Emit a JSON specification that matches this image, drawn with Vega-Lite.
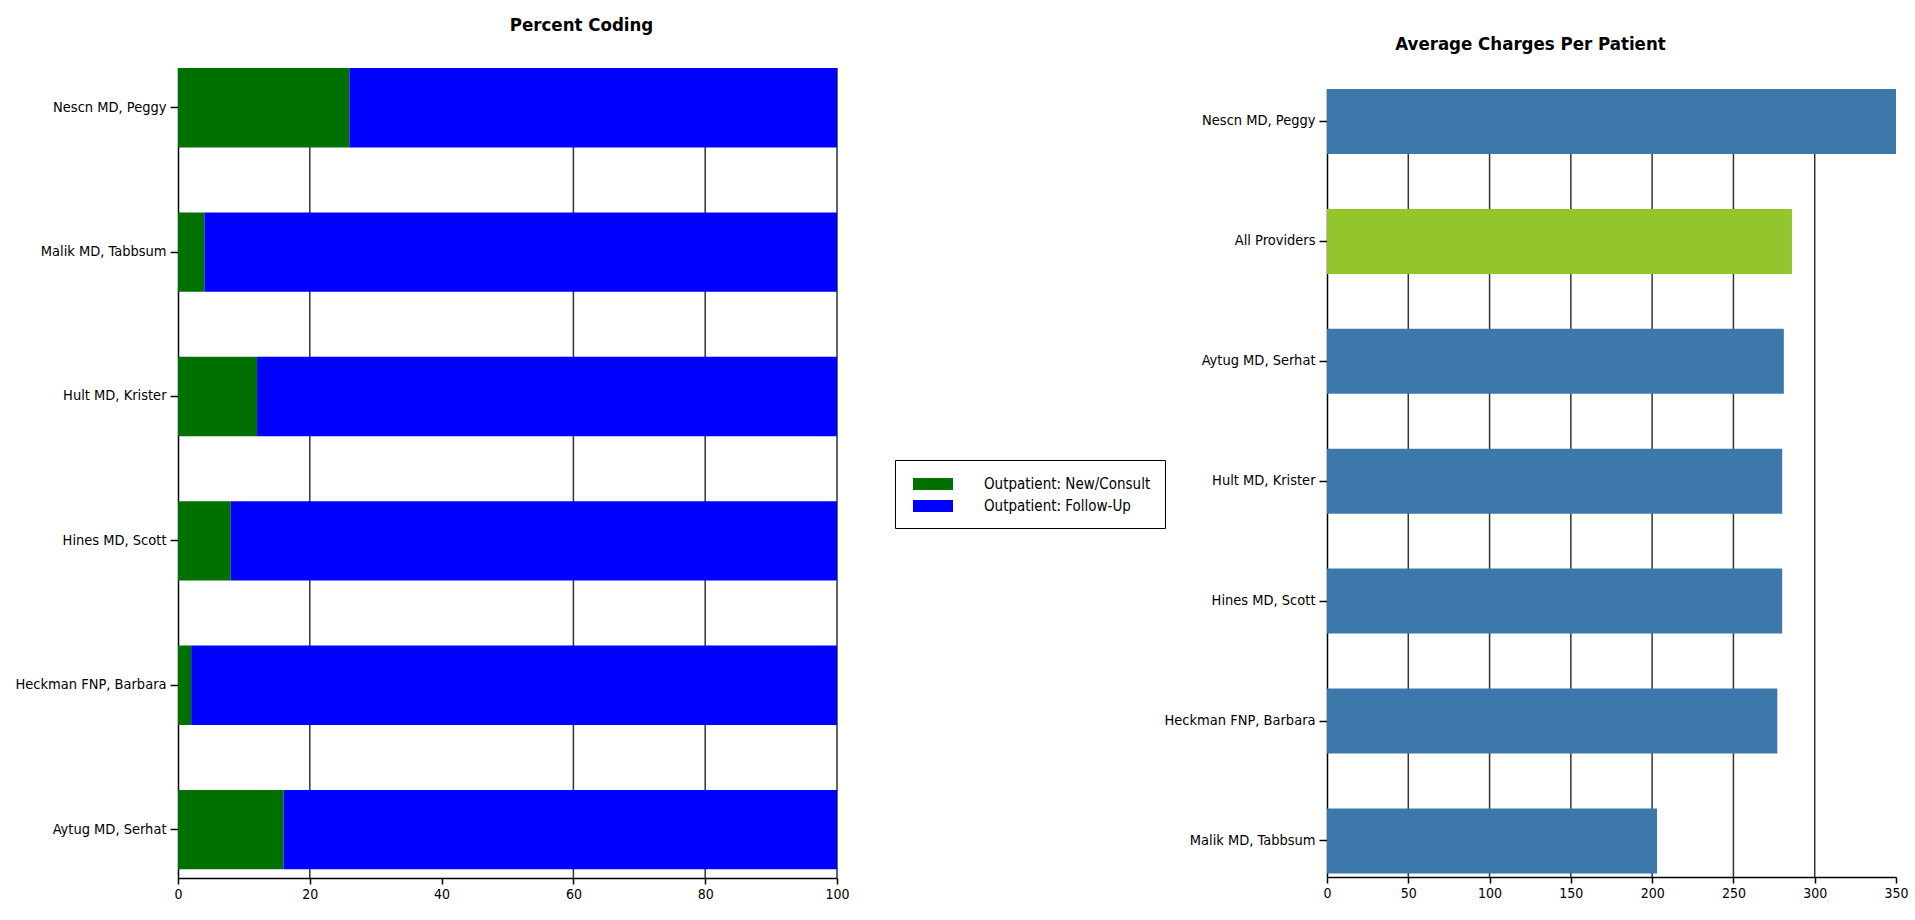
{
  "$schema": "https://vega.github.io/schema/vega-lite/v6.json",
  "padding": {"left": 0, "top": 12, "right": 0, "bottom": 0},
  "background": "white",
  "spacing": -13,
  "center": true,
  "resolve": {"scale": {"color": "independent"}, "legend": {"color": "independent"}},
  "config": {
    "view": {"stroke": null},
    "font": "DejaVu Sans Condensed, sans-serif",
    "axis": {
      "labelFont": "DejaVu Sans Condensed, sans-serif",
      "labelColor": "#000",
      "domainColor": "#000",
      "tickColor": "#000",
      "domainWidth": 1.5,
      "tickWidth": 1.5,
      "labelFontSize": 14.5,
      "grid": false,
      "title": null
    },
    "title": {
      "font": "DejaVu Sans Condensed, sans-serif",
      "fontSize": 18.5,
      "fontWeight": "bold",
      "color": "#000",
      "anchor": "middle",
      "frame": "bounds",
      "lineHeight": 22
    }
  },
  "datasets": {
    "coding": [
      {"provider": "Nescn MD, Peggy", "category": "Outpatient: New/Consult", "value": 26},
      {"provider": "Nescn MD, Peggy", "category": "Outpatient: Follow-Up", "value": 74},
      {"provider": "Malik MD, Tabbsum", "category": "Outpatient: New/Consult", "value": 4},
      {"provider": "Malik MD, Tabbsum", "category": "Outpatient: Follow-Up", "value": 96},
      {"provider": "Hult MD, Krister", "category": "Outpatient: New/Consult", "value": 12},
      {"provider": "Hult MD, Krister", "category": "Outpatient: Follow-Up", "value": 88},
      {"provider": "Hines MD, Scott", "category": "Outpatient: New/Consult", "value": 8},
      {"provider": "Hines MD, Scott", "category": "Outpatient: Follow-Up", "value": 92},
      {"provider": "Heckman FNP, Barbara", "category": "Outpatient: New/Consult", "value": 2},
      {"provider": "Heckman FNP, Barbara", "category": "Outpatient: Follow-Up", "value": 98},
      {"provider": "Aytug MD, Serhat", "category": "Outpatient: New/Consult", "value": 16},
      {"provider": "Aytug MD, Serhat", "category": "Outpatient: Follow-Up", "value": 84}
    ],
    "codingGrid": [{"v": 20}, {"v": 60}, {"v": 80}, {"v": 100}],
    "charges": [
      {"provider": "Nescn MD, Peggy", "group": "Provider", "charge": 350},
      {"provider": "All Providers", "group": "All", "charge": 286},
      {"provider": "Aytug MD, Serhat", "group": "Provider", "charge": 281},
      {"provider": "Hult MD, Krister", "group": "Provider", "charge": 280},
      {"provider": "Hines MD, Scott", "group": "Provider", "charge": 280},
      {"provider": "Heckman FNP, Barbara", "group": "Provider", "charge": 277},
      {"provider": "Malik MD, Tabbsum", "group": "Provider", "charge": 203}
    ],
    "chargesGrid": [{"v": 50}, {"v": 100}, {"v": 150}, {"v": 200}, {"v": 250}, {"v": 300}]
  },
  "hconcat": [
    {
      "vconcat": [
        {
          "width": 659,
          "height": 810,
          "title": {"text": "Percent Coding", "offset": 33, "dx": 157},
          "layer": [
            {
              "data": {"name": "codingGrid"},
              "mark": {"type": "rule", "color": "#333", "strokeWidth": 1.5},
              "encoding": {
                "x": {"field": "v", "type": "quantitative", "scale": {"domain": [0, 100], "nice": false}}
              }
            },
            {
              "data": {"name": "coding"},
              "mark": {"type": "bar"},
              "encoding": {
                "y": {
                  "field": "provider", "type": "nominal",
                  "sort": ["Nescn MD, Peggy", "Malik MD, Tabbsum", "Hult MD, Krister", "Hines MD, Scott", "Heckman FNP, Barbara", "Aytug MD, Serhat"],
                  "scale": {"paddingInner": 0.45, "paddingOuter": 0.03, "align": 0},
                  "axis": {"minExtent": 178, "maxExtent": 178, "labelPadding": 4, "tickSize": 8, "labelLimit": 220}
                },
                "x": {
                  "field": "value", "type": "quantitative", "stack": "zero",
                  "scale": {"domain": [0, 100], "nice": false},
                  "axis": {"values": [0, 20, 40, 60, 80, 100], "tickSize": 6, "labelPadding": 3, "labelFontSize": 14, "labelFlush": false,
                           "title": "\u00a0", "titleFontSize": 14, "titlePadding": 6}
                },
                "order": {"field": "category", "sort": "descending"},
                "color": {
                  "field": "category", "type": "nominal",
                  "sort": ["Outpatient: New/Consult", "Outpatient: Follow-Up"],
                  "scale": {"domain": ["Outpatient: New/Consult", "Outpatient: Follow-Up"], "range": ["#007000", "#0000FF"]},
                  "legend": {
                    "orient": "none", "legendX": 717, "legendY": 392,
                    "title": null,
                    "strokeColor": "#000", "fillColor": "#fff", "padding": 14,
                    "symbolType": "M-2,-0.6L2,-0.6L2,0.6L-2,0.6Z", "symbolSize": 400, "symbolOffset": 14,
                    "symbolStrokeWidth": 0, "symbolOpacity": 1,
                    "labelFont": "DejaVu Sans Condensed, sans-serif",
                    "labelFontSize": 15, "labelColor": "#000", "labelOffset": 41, "rowPadding": 4, "labelLimit": 300
                  }
                }
              }
            }
          ]
        }
      ]
    },
    {
      "vconcat": [
        {
          "width": 569,
          "height": 788,
          "title": {"text": ["\u00a0", "Average Charges Per Patient"], "offset": 35},
          "layer": [
            {
              "data": {"name": "chargesGrid"},
              "mark": {"type": "rule", "color": "#333", "strokeWidth": 1.5},
              "encoding": {
                "x": {"field": "v", "type": "quantitative", "scale": {"domain": [0, 350], "nice": false}}
              }
            },
            {
              "data": {"name": "charges"},
              "mark": {"type": "bar"},
              "encoding": {
                "y": {
                  "field": "provider", "type": "nominal",
                  "sort": ["Nescn MD, Peggy", "All Providers", "Aytug MD, Serhat", "Hult MD, Krister", "Hines MD, Scott", "Heckman FNP, Barbara", "Malik MD, Tabbsum"],
                  "scale": {"paddingInner": 0.458, "paddingOuter": 0.015, "align": 0},
                  "axis": {"minExtent": 174, "maxExtent": 174, "labelPadding": 4, "tickSize": 8, "labelLimit": 220}
                },
                "x": {
                  "field": "charge", "type": "quantitative",
                  "scale": {"domain": [0, 350], "nice": false},
                  "axis": {"values": [0, 50, 100, 150, 200, 250, 300, 350], "tickSize": 6, "labelPadding": 3, "labelFontSize": 14, "labelFlush": false}
                },
                "color": {
                  "field": "group", "type": "nominal",
                  "scale": {"domain": ["Provider", "All"], "range": ["#3D78AB", "#93C52D"]},
                  "legend": null
                }
              }
            }
          ]
        }
      ]
    }
  ]
}
